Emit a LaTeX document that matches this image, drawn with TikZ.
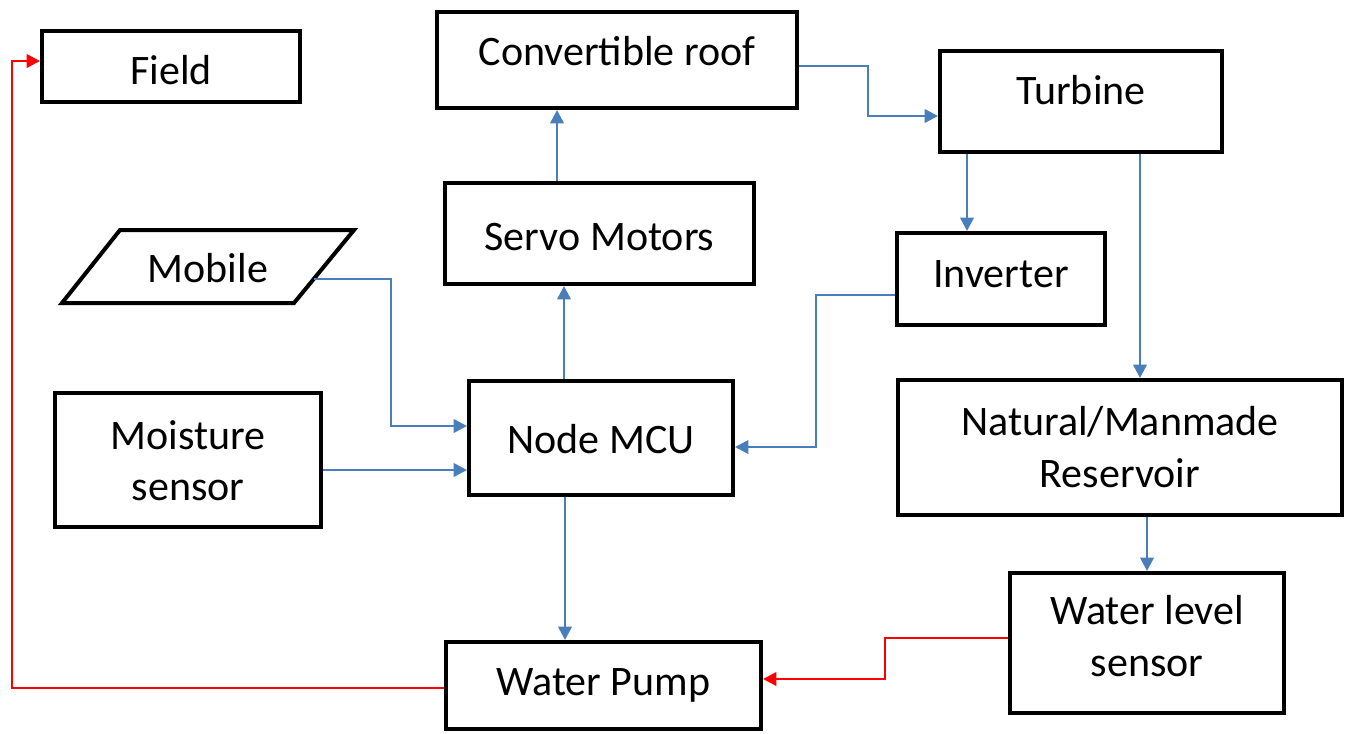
\documentclass[tikz,border=0pt]{standalone}
\usepackage{fontspec}
\setmainfont{Carlito}
\usetikzlibrary{arrows.meta}
\definecolor{blueC}{HTML}{4A7EBB}
\definecolor{redC}{HTML}{FF0000}
\begin{document}
\begin{tikzpicture}[x=0.75pt,y=-0.75pt,
  box/.style={draw=black, line width=3pt, rectangle, inner sep=0pt},
  txt/.style={font=\fontsize{31.5}{38.5}\selectfont, inner sep=0pt, align=center},
  bl/.style={draw=blueC, line width=2pt, -{Triangle[width=10pt,length=10pt]}},
  rd/.style={draw=redC, line width=2pt, -{Triangle[width=10pt,length=10pt]}}]
\fill[white] (0,0) rectangle (1353,733);
\useasboundingbox (0,0) rectangle (1353,733);
% boxes
\node[box, minimum width=258*0.75pt, minimum height=71*0.75pt] (field) at (171,66.5) {};
\node[txt, anchor=base] (fieldT) at (171,84) {Field};
\node[box, minimum width=360*0.75pt, minimum height=96*0.75pt] (roof) at (617,60) {};
\node[txt, anchor=base] (roofT) at (617,65) {Convertible roof};
\node[box, minimum width=282*0.75pt, minimum height=101*0.75pt] (turb) at (1081,101.5) {};
\node[txt, anchor=base] (turbT) at (1081,104) {Turbine};
\node[box, minimum width=309*0.75pt, minimum height=101*0.75pt] (servo) at (599.5,233.5) {};
\node[txt, anchor=base] (servoT) at (599.5,250) {Servo Motors};
\draw[line width=3pt, line join=miter] (120,230) -- (354,230) -- (294,303) -- (62,303) -- cycle;
\node[txt, anchor=base] (mob) at (208,282) {Mobile};
\coordinate (mobR) at (314,279);
\node[box, minimum width=208*0.75pt, minimum height=92*0.75pt] (inv) at (1001,279) {};
\node[txt, anchor=base] (invT) at (1001,287) {Inverter};
\node[box, minimum width=266*0.75pt, minimum height=134*0.75pt] (moist) at (188,460) {};
\node[txt] (moistT) at (188,460.5) {Moisture\\sensor};
\node[box, minimum width=264*0.75pt, minimum height=114*0.75pt] (mcu) at (601,438) {};
\node[txt, anchor=base] (mcuT) at (601,453) {Node MCU};
\node[box, minimum width=444*0.75pt, minimum height=135*0.75pt] (res) at (1120,447.5) {};
\node[txt] (resT) at (1120,447) {Natural/Manmade\\Reservoir};
\node[box, minimum width=274*0.75pt, minimum height=140*0.75pt] (wls) at (1147,643) {};
\node[txt] (wlsT) at (1147,636) {Water level\\sensor};
\node[box, minimum width=315*0.75pt, minimum height=87*0.75pt] (pump) at (603.5,685.5) {};
\node[txt, anchor=base] (pumpT) at (603.5,695) {Water Pump};
% connectors
\draw[bl] (roof.east |- 0,66) -- (868,66) |- (turb.west |- 0,116);
\draw[bl] (servo.north -| 557,0) -- (roof.south -| 557,0);
\draw[bl] (mcu.north -| 564,0) -- (servo.south -| 564,0);
\draw[bl] (mobR) -- (391,279) |- (mcu.west |- 0,426);
\draw[bl] (moist.east |- 0,470) -- (mcu.west |- 0,470);
\draw[bl] (inv.west |- 0,295) -- (816,295) |- (mcu.east |- 0,447);
\draw[bl] (turb.south -| 967,0) -- (inv.north -| 967,0);
\draw[bl] (turb.south -| 1140,0) -- (res.north -| 1140,0);
\draw[bl] (res.south -| 1147,0) -- (wls.north -| 1147,0);
\draw[bl] (mcu.south -| 565,0) -- (pump.north -| 565,0);
\draw[rd] (wls.west |- 0,638) -- (885,638) |- (pump.east |- 0,679);
\draw[rd] (pump.west |- 0,688) -- (12,688) |- (field.west |- 0,61);
\end{tikzpicture}
\end{document}
